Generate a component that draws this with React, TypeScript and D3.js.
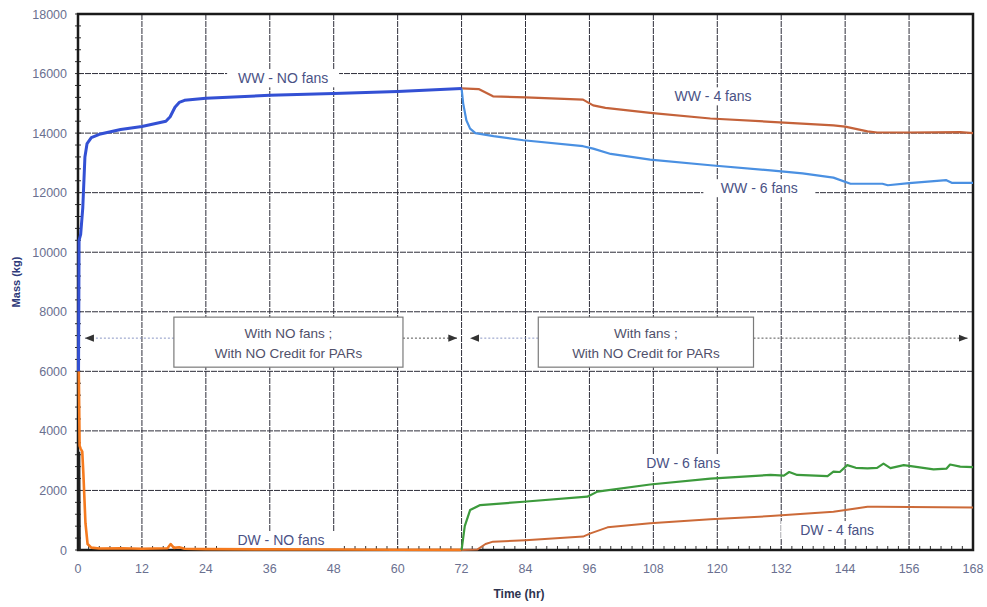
import React from "react";
import * as d3 from "d3";

// ---- data (time in hr, mass in kg) ----
const xTicks = [0, 12, 24, 36, 48, 60, 72, 84, 96, 108, 120, 132, 144, 156, 168];
const yTicks = [0, 2000, 4000, 6000, 8000, 10000, 12000, 14000, 16000, 18000];

const wwNoFansT = [0.1, 0.2, 0.5, 0.9, 1.3, 1.7, 2.5, 4, 8, 12, 16.5, 17.3, 18.2, 19, 20, 24, 36, 48, 60, 72];
const wwNoFansV = [6000, 10400, 10600, 11500, 13200, 13650, 13850, 13960, 14120, 14220, 14400, 14550, 14870, 15030, 15100, 15170, 15270, 15330, 15400, 15500];

const dwNoFansT = [0.15, 0.3, 0.5, 0.8, 1.0, 1.4, 1.8, 2.5, 4, 8, 12, 16.8, 17.4, 18, 19, 20, 24, 36, 48, 60, 72];
const dwNoFansV = [6000, 3500, 3400, 3300, 2600, 900, 200, 80, 50, 60, 40, 60, 200, 70, 90, 40, 30, 20, 15, 10, 5];

const darkInitT = [0.25, 0.3, 0.35];
const darkInitV = [3300, 1500, 0];

const ww4T = [72, 75.2, 77.9, 84, 94.8, 96.7, 99, 107.4, 118.7, 130, 141.8, 144, 148.2, 150, 156, 165.6, 168];
const ww4V = [15500, 15480, 15235, 15200, 15125, 14930, 14850, 14680, 14490, 14380, 14260, 14220, 14060, 14020, 14020, 14030, 14000];

const ww6T = [72, 72.3, 72.9, 73.6, 74.6, 78, 83.6, 94.8, 96.7, 100, 107.4, 118.7, 130, 136, 141.8, 145, 151, 152, 156, 163, 164, 168];
const ww6V = [15500, 15000, 14430, 14150, 14000, 13900, 13760, 13560, 13480, 13300, 13110, 12920, 12750, 12650, 12505, 12300, 12300, 12250, 12320, 12420, 12330, 12330];

const dw6T = [72, 72.6, 73.6, 75.5, 83.6, 95.6, 97.5, 107.4, 118.7, 130, 132.5, 133.5, 135, 140.7, 141.8, 143, 144.4, 146, 148.2, 150, 151.2, 152.5, 155, 157, 160.6, 163, 163.7, 165.6, 168];
const dw6V = [0, 800, 1340, 1510, 1620, 1790, 1960, 2200, 2400, 2520, 2500, 2620, 2520, 2480, 2630, 2620, 2850, 2760, 2740, 2760, 2900, 2750, 2850, 2800, 2710, 2730, 2870, 2800, 2780];

const dw4T = [72, 75, 76.5, 77.9, 84, 94.8, 96.2, 99.4, 107.4, 118.7, 130, 141.8, 148.2, 150, 168];
const dw4V = [0, 20, 200, 280, 330, 450, 560, 760, 900, 1030, 1140, 1285, 1450, 1450, 1430];

const seriesLabels = ["WW - NO fans", "WW - 4 fans", "WW - 6 fans", "DW - 6 fans", "DW - 4 fans", "DW - NO fans"];
const labelT = [38.5, 119.2, 127.9, 113.6, 142.5, 38.1];
const labelV = [15840, 15235, 12150, 2920, 670, 335];

const W = 987, H = 607;
const M = { left: 78, right: 973, top: 14, bottom: 550 };

export default function App() {
  const x = d3.scaleLinear().domain([0, 168]).range([M.left, M.right]);
  const y = d3.scaleLinear().domain([0, 18000]).range([M.bottom, M.top]);
  const line = (t: number[], v: number[]) =>
    d3.line<number>().x((_, i) => x(t[i])).y((d) => y(d))(v) || "";

  const series = [
    { t: dwNoFansT, v: dwNoFansV, c: "#f57a1e", w: 2.6 },
    { t: darkInitT, v: darkInitV, c: "#222", w: 2 },
    { t: dw4T, v: dw4V, c: "#cc6a38", w: 2 },
    { t: dw6T, v: dw6V, c: "#3c9a3c", w: 2.2 },
    { t: ww4T, v: ww4V, c: "#c4623a", w: 2.2 },
    { t: ww6T, v: ww6V, c: "#4a90e2", w: 2.2 },
    { t: wwNoFansT, v: wwNoFansV, c: "#3350d4", w: 3 },
  ];

  const minorX = d3.range(0, 169, 2);
  const minorY = d3.range(0, 18001, 400);
  const font = "'Liberation Sans', Arial, sans-serif";

  const arrowY = y(7115);
  const boxes = [
    { t0: 18.0, t1: 61.0, a0: 1.3, a1: 71.2, lines: ["With NO fans ;", "With NO Credit for PARs"] },
    { t0: 86.4, t1: 126.8, a0: 73.6, a1: 167, lines: ["With fans ;", "With NO Credit for PARs"] },
  ];

  return (
    <svg width={W} height={H} style={{ position: "absolute", left: 0, top: 0, background: "#fff" }} fontFamily={font}>
      <defs>
        <marker id="arrR" viewBox="0 0 10 10" refX="10" refY="5" markerWidth="9" markerHeight="9" orient="auto">
          <path d="M0,1 L10,5 L0,9 z" fill="#333" />
        </marker>
      </defs>
      {/* grid */}
      {xTicks.map((t) => (
        <line key={"gx" + t} x1={x(t)} x2={x(t)} y1={M.top} y2={M.bottom} stroke="#2e2e3a" strokeWidth={1} strokeDasharray="6 1" />
      ))}
      {yTicks.map((v) => (
        <line key={"gy" + v} x1={M.left} x2={M.right} y1={y(v)} y2={y(v)} stroke="#2e2e3a" strokeWidth={1} strokeDasharray="6 1" />
      ))}
      {/* minor ticks */}
      {minorX.map((t) => (
        <line key={"mx" + t} x1={x(t)} x2={x(t)} y1={M.bottom} y2={M.bottom - 4} stroke="#333" strokeWidth={1} />
      ))}
      {minorY.map((v) => (
        <line key={"my" + v} x1={M.left - 3} x2={M.left + 3} y1={y(v)} y2={y(v)} stroke="#333" strokeWidth={1} />
      ))}
      {/* annotation boxes and arrows */}
      {boxes.map((b, i) => (
        <g key={"box" + i}>
          <line x1={x(b.t0)} x2={x(b.a0)} y1={arrowY} y2={arrowY} stroke="#8a96c4" strokeWidth={1} strokeDasharray="2 2" markerEnd="url(#arrR)" />
          <line x1={x(b.t1)} x2={x(b.a1)} y1={arrowY} y2={arrowY} stroke="#555" strokeWidth={1} strokeDasharray="2 2" markerEnd="url(#arrR)" />
          <rect x={x(b.t0)} y={y(7820)} width={x(b.t1) - x(b.t0)} height={y(6140) - y(7820)} fill="#fff" stroke="#7a7a7a" strokeWidth={1.2} />
          {b.lines.map((s, j) => (
            <text key={j} x={(x(b.t0) + x(b.t1)) / 2} y={y(7820) + 21 + j * 20} textAnchor="middle" fontSize={13.5} fill="#50506a">
              {s}
            </text>
          ))}
        </g>
      ))}
      {/* series labels */}
      {seriesLabels.map((s, i) => (
        <g key={"lab" + i}>
          <rect x={x(labelT[i]) - 56} y={y(labelV[i]) - 9} width={112} height={18} fill="#fff" />
          <text x={x(labelT[i])} y={y(labelV[i]) + 5} textAnchor="middle" fontSize={14} fill="#4a5285">
            {s}
          </text>
        </g>
      ))}
      {/* frame */}
      <rect x={M.left} y={M.top} width={M.right - M.left} height={M.bottom - M.top} fill="none" stroke="#1a1a1a" strokeWidth={2.5} />
      {/* series */}
      {series.map((s, i) => (
        <path key={"s" + i} d={line(s.t, s.v)} fill="none" stroke={s.c} strokeWidth={s.w} strokeLinejoin="round" />
      ))}
      {/* tick labels */}
      {xTicks.map((t) => (
        <text key={"xt" + t} x={x(t)} y={573} textAnchor="middle" fontSize={12.5} fill="#6a7090">
          {t}
        </text>
      ))}
      {yTicks.map((v) => (
        <text key={"yt" + v} x={67} y={y(v) + 4.5} textAnchor="end" fontSize={12.5} fill="#6a7090">
          {v}
        </text>
      ))}
      <text x={519} y={598} textAnchor="middle" fontSize={12} fontWeight="bold" fill="#2e3450">
        Time (hr)
      </text>
      <text transform={`translate(20,${y(9000)}) rotate(-90)`} textAnchor="middle" fontSize={11} fontWeight="bold" fill="#2e3a7a">
        Mass (kg)
      </text>
    </svg>
  );
}
